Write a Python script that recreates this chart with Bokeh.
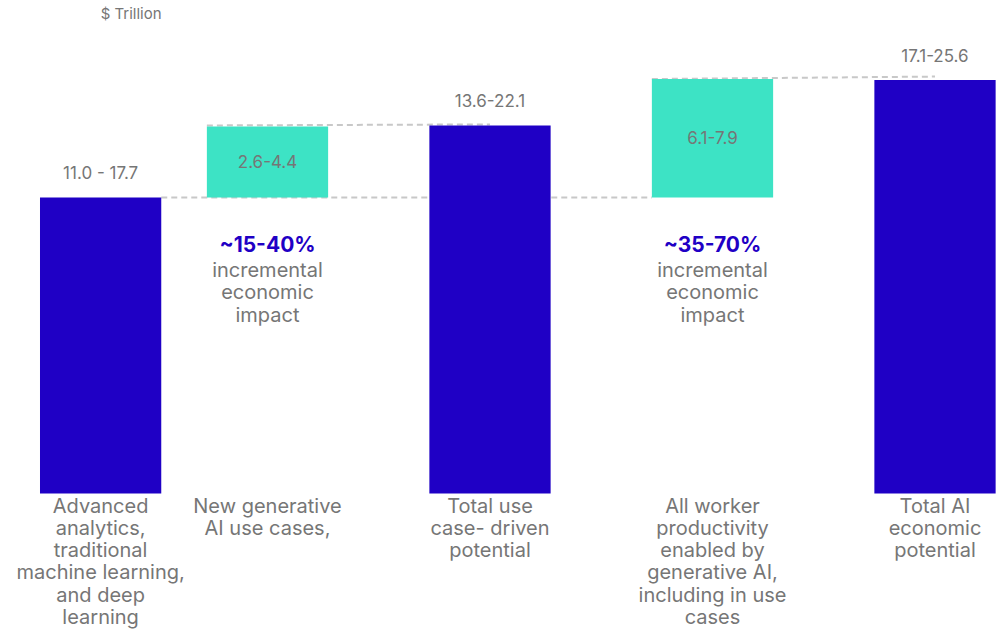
import numpy as np
from bokeh.plotting import figure
from bokeh.models import ColumnDataSource, Range1d, Label
from bokeh.core.properties import value
from bokeh.embed import file_html
from bokeh.resources import INLINE

# ---- data ----
categories = [
    "Advanced\nanalytics,\ntraditional\nmachine learning,\nand deep\nlearning",
    "New generative\nAI use cases,",
    "Total use\ncase- driven\npotential",
    "All worker\nproductivity\nenabled by\ngenerative AI,\nincluding in use\ncases",
    "Total AI\neconomic\npotential",
]
range_labels = ["11.0 - 17.7", "2.6-4.4", "13.6-22.1", "6.1-7.9", "17.1-25.6"]
bar_bottom = [0.0, 14.35, 0.0, 14.35, 0.0]      # $ trillion (as drawn)
bar_top = [14.35, 17.8, 17.85, 20.1, 20.05]     # $ trillion (as drawn)
bar_kind = ["total", "increment", "total", "increment", "total"]
impact_pct = ["", "~15-40%", "", "~35-70%", ""]
impact_text = ["", "incremental\neconomic\nimpact", "", "incremental\neconomic\nimpact", ""]
unit_label = "$ Trillion"

# ---- style ----
BLUE = "#1f00c5"
TEAL = "#3de3c5"
GRAY = "#767676"
DASH = "#c8c8c8"
FONT = "Inter"
BAR_W = 0.545
FIRST_SHIFT = 0.25
LH = 0.94

n = len(categories)
pos = np.arange(n, dtype=float)
pos[0] += FIRST_SHIFT
colors = [BLUE if k == "total" else TEAL for k in bar_kind]

src = ColumnDataSource(dict(
    x=pos, bottom=bar_bottom, top=bar_top, color=colors,
    cat=categories, rng=range_labels,
))

W, H = 1000, 630
p = figure(width=W, height=H, output_backend="svg", toolbar_location=None,
           x_range=Range1d(-0.2, -0.2 + W / 222.5),
           y_range=Range1d(23.909 - H / 20.62, 23.909),
           min_border=0, outline_line_color=None)
p.axis.visible = False
p.grid.visible = False
p.background_fill_color = "white"

# connector dashed lines (drawn under bars)
x0 = [pos[0] + BAR_W / 2, pos[1] - BAR_W / 2, pos[3] - BAR_W / 2]
x1 = [pos[3] - BAR_W / 2, pos[2], pos[4]]
y0 = [bar_top[0], bar_top[1] + 0.05, bar_top[3]]
y1 = [bar_top[0], bar_top[2] + 0.05, bar_top[4] + 0.17]
p.segment(x0=x0, y0=y0, x1=x1, y1=y1, line_color=DASH, line_width=2,
          line_dash="6 4")

p.vbar(x="x", bottom="bottom", top="top", width=BAR_W, fill_color="color",
       line_color=None, source=src)

# value labels
tot = [i for i in range(n) if bar_kind[i] == "total"]
inc = [i for i in range(n) if bar_kind[i] == "increment"]
p.text(x=[pos[i] for i in tot], y=[bar_top[i] for i in tot],
       text=[range_labels[i] for i in tot], text_align="center",
       text_baseline="middle", y_offset=-25, text_color=GRAY,
       text_font=value(FONT), text_font_size="17px")
p.text(x=[pos[i] for i in inc], y=[(bar_bottom[i] + bar_top[i]) / 2 for i in inc],
       text=[range_labels[i] for i in inc], text_align="center",
       text_baseline="middle", y_offset=-1, text_color=GRAY,
       text_font=value(FONT), text_font_size="17px")

# impact annotations
p.text(x=[pos[i] for i in inc], y=[bar_bottom[i] for i in inc],
       text=[impact_pct[i] for i in inc], text_align="center",
       text_baseline="middle", y_offset=47, text_color=BLUE,
       text_font=value(FONT), text_font_size="21px", text_font_style="bold")
p.text(x=[pos[i] for i in inc], y=[bar_bottom[i] for i in inc],
       text=[impact_text[i] for i in inc], text_align="center",
       text_baseline="top", y_offset=60, text_color=GRAY,
       text_font=value(FONT), text_font_size="20px", text_line_height=LH)

# category labels
p.text(x="x", y=0, text="cat", source=src, text_align="center",
       text_baseline="top", y_offset=0, text_color=GRAY,
       text_font=value(FONT), text_font_size="20px", text_line_height=0.93)

p.add_layout(Label(x=pos[0], y=H - 13, x_units="data", y_units="screen",
                   text=unit_label, text_align="left", text_baseline="middle",
                   text_color=GRAY, text_font=FONT, text_font_size="15px"))

open("out.html", "w").write(file_html(p, INLINE))
